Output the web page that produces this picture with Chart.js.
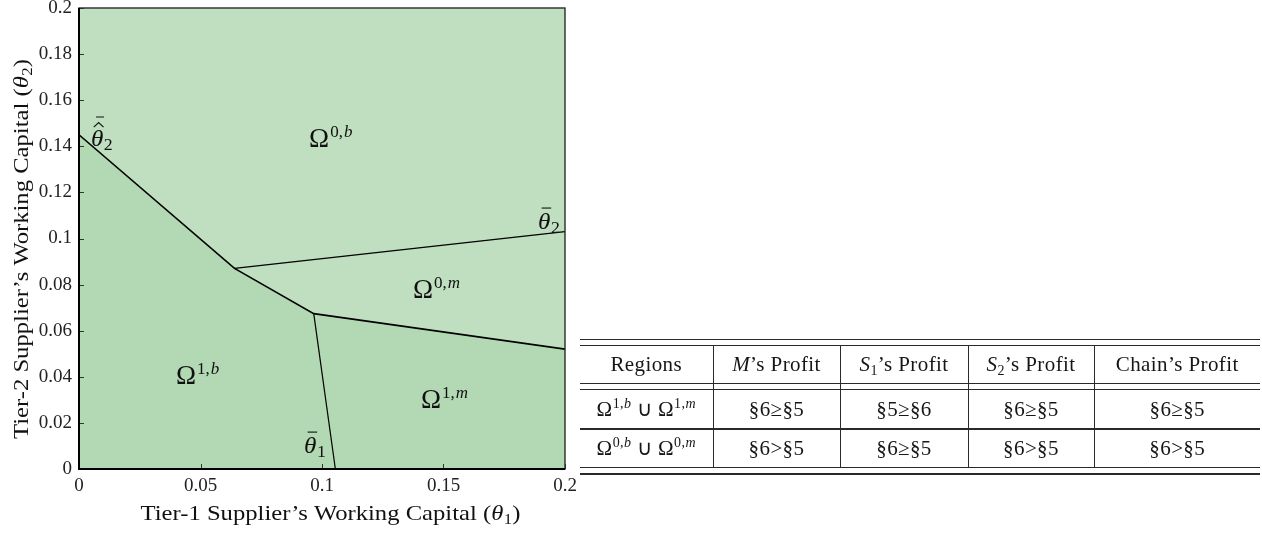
<!DOCTYPE html>
<html>
<head>
<meta charset="utf-8">
<script src="https://cdn.jsdelivr.net/npm/chart.js@4.4.0/dist/chart.umd.min.js"></script>
<style>
  html, body { margin: 0; padding: 0; background: #fff; width: 1262px; height: 535px; overflow: hidden; }
  #wrap { position: absolute; left: 0; top: -12px; width: 600px; height: 547px; }
  #tbl { position: absolute; left: 580px; top: 337px; width: 680px; height: 140px;
         font-family: 'Liberation Serif', 'Times New Roman', serif; font-size: 21px; color: #161616; z-index: 2; }
  #tbl .rule { position: absolute; left: 0; width: 680px; height: 1.5px; background: #2a2a2a; }
  #tbl table { position: absolute; left: 0; top: 8.5px; width: 680px; border-collapse: collapse; table-layout: fixed; }
  #tbl td { padding: 0; text-align: center; vertical-align: middle; white-space: nowrap; letter-spacing: 0.4px; }
  #tbl td + td { border-left: 1.2px solid #2a2a2a; }
  #tbl sup, #tbl sub { font-size: 14px; line-height: 0; }
  #tbl sup { vertical-align: 0.55em; }
  #tbl sub { vertical-align: -0.3em; }
</style>
</head>
<body>
<div id="wrap"><canvas id="c" width="600" height="547"></canvas></div>

<div id="tbl">
  <div class="rule" style="top:1.75px"></div>
  <div class="rule" style="top:7.75px"></div>
  <table>
    <colgroup>
      <col style="width:133px"><col style="width:127px"><col style="width:128px"><col style="width:126px"><col style="width:166px">
    </colgroup>
    <tr style="height:38px">
      <td>Regions</td>
      <td><i>M</i>’s Profit</td>
      <td><i>S</i><sub>1</sub>’s Profit</td>
      <td><i>S</i><sub>2</sub>’s Profit</td>
      <td>Chain’s Profit</td>
    </tr>
    <tr style="height:6px"><td></td><td></td><td></td><td></td><td></td></tr>
    <tr style="height:39.5px">
      <td>Ω<sup>1,<i>b</i></sup> ∪ Ω<sup>1,<i>m</i></sup></td>
      <td>§6≥§5</td>
      <td>§5≥§6</td>
      <td>§6≥§5</td>
      <td>§6≥§5</td>
    </tr>
    <tr style="height:38.5px">
      <td>Ω<sup>0,<i>b</i></sup> ∪ Ω<sup>0,<i>m</i></sup></td>
      <td>§6&gt;§5</td>
      <td>§6≥§5</td>
      <td>§6&gt;§5</td>
      <td>§6&gt;§5</td>
    </tr>
  </table>
  <div class="rule" style="top:45.75px"></div>
  <div class="rule" style="top:51.75px"></div>
  <div class="rule" style="top:91.25px"></div>
  <div class="rule" style="top:129.75px"></div>
  <div class="rule" style="top:136.25px"></div>
</div>

<script>
// Axis ticks
const xTicks = [0, 0.05, 0.1, 0.15, 0.2];
const xTickLabels = ['0', '0.05', '0.1', '0.15', '0.2'];
const yTicks = [0, 0.02, 0.04, 0.06, 0.08, 0.1, 0.12, 0.14, 0.16, 0.18, 0.2];
const yTickLabels = ['0', '0.02', '0.04', '0.06', '0.08', '0.1', '0.12', '0.14', '0.16', '0.18', '0.2'];

// Boundary below which the Ω^{1,·} regions lie (hat-bar θ2 threshold, then the kinked frontier)
const frontierX = [0, 0.064, 0.0966, 0.2];
const frontierY = [0.145, 0.087, 0.0674, 0.052];

// θ̄2 threshold separating Ω^{0,b} from Ω^{0,m}
const theta2LineX = [0.064, 0.2];
const theta2LineY = [0.087, 0.103];

// θ̄1 threshold separating Ω^{1,b} from Ω^{1,m}
const theta1LineX = [0.0966, 0.1055];
const theta1LineY = [0.0674, 0];

// Region names (superscripts of Ω) and where they are written
const regionTags = ['0,b', '0,m', '1,b', '1,m'];
const regionTagX = [0.0947, 0.1374, 0.0399, 0.1407];
const regionTagY = [0.1397, 0.0742, 0.0369, 0.0265];

// Threshold names: subscript, accent, and where they are written
const thresholdSubs = ['1', '2', '2'];
const thresholdAccents = ['bar', 'bar', 'hatbar'];
const thresholdX = [0.0926, 0.1889, 0.0049];
const thresholdY = [0.0069, 0.1041, 0.1401];

const SERIF = "'Liberation Serif', 'Times New Roman', serif";
const LIGHT = '#c0dfc1';
const DARK = '#b3d9b4';

const toXY = (xs, ys) => xs.map((x, i) => ({ x: x, y: ys[i] }));

function drawAccent(ctx, kind, x, w, dy) {
  ctx.save();
  ctx.strokeStyle = '#111';
  ctx.lineWidth = 1.1;
  ctx.beginPath();
  if (kind === 'bar') {
    ctx.moveTo(x + w * 0.28, dy - 21);
    ctx.lineTo(x + w * 1.02, dy - 21);
  } else if (kind === 'hatbar') {
    ctx.moveTo(x + w * 0.22, dy - 19);
    ctx.lineTo(x + w * 0.6, dy - 23.5);
    ctx.lineTo(x + w * 0.98, dy - 19);
    ctx.moveTo(x + w * 0.4, dy - 29);
    ctx.lineTo(x + w * 1.02, dy - 29);
  }
  ctx.stroke();
  ctx.restore();
}

// Draws a run of text pieces (mixed fonts, sub/superscripts) on one baseline
function drawRich(ctx, x, y, parts, align, sx) {
  let total = 0;
  parts.forEach(p => {
    ctx.font = p.font;
    p.w = ctx.measureText(p.text).width + (p.gap || 0);
    total += p.w;
  });
  ctx.save();
  ctx.translate(x, y);
  ctx.scale(sx || 1, 1);
  ctx.textAlign = 'left';
  ctx.textBaseline = 'alphabetic';
  ctx.fillStyle = '#111';
  let cx = align === 'center' ? -total / 2 : 0;
  parts.forEach(p => {
    ctx.font = p.font;
    ctx.fillText(p.text, cx, p.dy || 0);
    if (p.accent) drawAccent(ctx, p.accent, cx, p.w, p.dy || 0);
    cx += p.w;
  });
  ctx.restore();
}

const regionPlot = {
  id: 'regionPlot',
  beforeDraw(chart) {
    // light green for the Ω^{0,·} regions; the Ω^{1,·} fill goes on top
    const { ctx, chartArea: a } = chart;
    ctx.save();
    ctx.fillStyle = LIGHT;
    ctx.fillRect(a.left, a.top, a.right - a.left, a.bottom - a.top);
    ctx.restore();
  },
  afterDatasetsDraw(chart) {
    const { ctx, chartArea: a, scales } = chart;
    const xs = scales.x, ys = scales.y;
    ctx.save();
    // inward tick marks
    ctx.strokeStyle = '#333';
    ctx.lineWidth = 1;
    ctx.beginPath();
    xTicks.forEach(v => {
      const px = Math.round(xs.getPixelForValue(v)) + 0.5;
      ctx.moveTo(px, a.bottom);
      ctx.lineTo(px, a.bottom - 5);
    });
    yTicks.forEach(v => {
      const py = Math.round(ys.getPixelForValue(v)) + 0.5;
      ctx.moveTo(a.left, py);
      ctx.lineTo(a.left + 5, py);
    });
    ctx.stroke();
    // frame
    ctx.strokeStyle = '#2b2b2b';
    ctx.lineWidth = 1.4;
    ctx.strokeRect(a.left, a.top, a.right - a.left, a.bottom - a.top);
    ctx.strokeStyle = '#000';
    ctx.lineWidth = 2;
    ctx.beginPath();
    ctx.moveTo(a.left, a.top);
    ctx.lineTo(a.left, a.bottom);
    ctx.lineTo(a.right, a.bottom);
    ctx.stroke();
    ctx.restore();

    // region names
    regionTags.forEach((tag, i) => {
      const [num, letter] = tag.split(',');
      drawRich(ctx, xs.getPixelForValue(regionTagX[i]), ys.getPixelForValue(regionTagY[i]), [
        { text: 'Ω', font: '27px ' + SERIF, gap: 1 },
        { text: num + ',', font: '17px ' + SERIF, dy: -10, gap: 1 },
        { text: letter, font: 'italic 17px ' + SERIF, dy: -10 }
      ], 'left', 1.0);
    });

    // threshold names
    thresholdSubs.forEach((sub, i) => {
      drawRich(ctx, xs.getPixelForValue(thresholdX[i]), ys.getPixelForValue(thresholdY[i]), [
        { text: 'θ', font: 'italic 24px ' + SERIF, accent: thresholdAccents[i], gap: 0.5 },
        { text: sub, font: '17px ' + SERIF, dy: 4 }
      ], 'left', 1.05);
    });
  },
  afterDraw(chart) {
    const { ctx, chartArea: a } = chart;
    const titleFont = '22px ' + SERIF;
    // x title
    drawRich(ctx, (a.left + a.right) / 2 + 8.5, a.bottom + 51, [
      { text: 'Tier-1 Supplier’s Working Capital (', font: titleFont },
      { text: 'θ', font: 'italic 22px ' + SERIF, gap: 0.5 },
      { text: '1', font: '15px ' + SERIF, dy: 4 },
      { text: ')', font: titleFont }
    ], 'center', 1.12);
    // y title
    ctx.save();
    ctx.translate(28, (a.top + a.bottom) / 2 + 10.5);
    ctx.rotate(-Math.PI / 2);
    drawRich(ctx, 0, 0, [
      { text: 'Tier-2 Supplier’s Working Capital (', font: titleFont },
      { text: 'θ', font: 'italic 22px ' + SERIF, gap: 0.5 },
      { text: '2', font: '15px ' + SERIF, dy: 4 },
      { text: ')', font: titleFont }
    ], 'center', 1.12);
    ctx.restore();
  }
};

new Chart(document.getElementById('c'), {
  type: 'line',
  data: {
    datasets: [
      {
        data: toXY(frontierX, frontierY),
        borderColor: '#000',
        borderWidth: 1.6,
        backgroundColor: DARK,
        fill: 'origin',
        pointRadius: 0,
        tension: 0
      },
      {
        data: toXY(theta2LineX, theta2LineY),
        borderColor: '#000',
        borderWidth: 1.2,
        fill: false,
        pointRadius: 0,
        tension: 0
      },
      {
        data: toXY(theta1LineX, theta1LineY),
        borderColor: '#000',
        borderWidth: 1.2,
        fill: false,
        pointRadius: 0,
        tension: 0
      }
    ]
  },
  options: {
    responsive: false,
    animation: false,
    layout: { padding: { top: 20, right: 35, left: 0, bottom: 0 } },
    plugins: {
      legend: { display: false },
      tooltip: { enabled: false },
      filler: { drawTime: 'beforeDatasetsDraw' }
    },
    scales: {
      x: {
        type: 'linear',
        min: 0, max: 0.2,
        afterBuildTicks: s => { s.ticks = xTicks.map(v => ({ value: v })); },
        afterFit: s => { s.height = 66; },
        grid: { display: false, drawTicks: false },
        border: { display: false },
        ticks: {
          padding: 6,
          maxRotation: 0,
          autoSkip: false,
          color: '#222',
          font: { family: SERIF, size: 19 },
          callback: v => xTickLabels[xTicks.indexOf(v)]
        }
      },
      y: {
        type: 'linear',
        min: 0, max: 0.2,
        afterBuildTicks: s => { s.ticks = yTicks.map(v => ({ value: v })); },
        afterFit: s => { s.width = 79; },
        grid: { display: false, drawTicks: false },
        border: { display: false },
        ticks: {
          padding: 7,
          autoSkip: false,
          color: '#222',
          font: { family: SERIF, size: 19 },
          callback: v => yTickLabels[yTicks.indexOf(v)]
        }
      }
    }
  },
  plugins: [regionPlot]
});
</script>
</body>
</html>
